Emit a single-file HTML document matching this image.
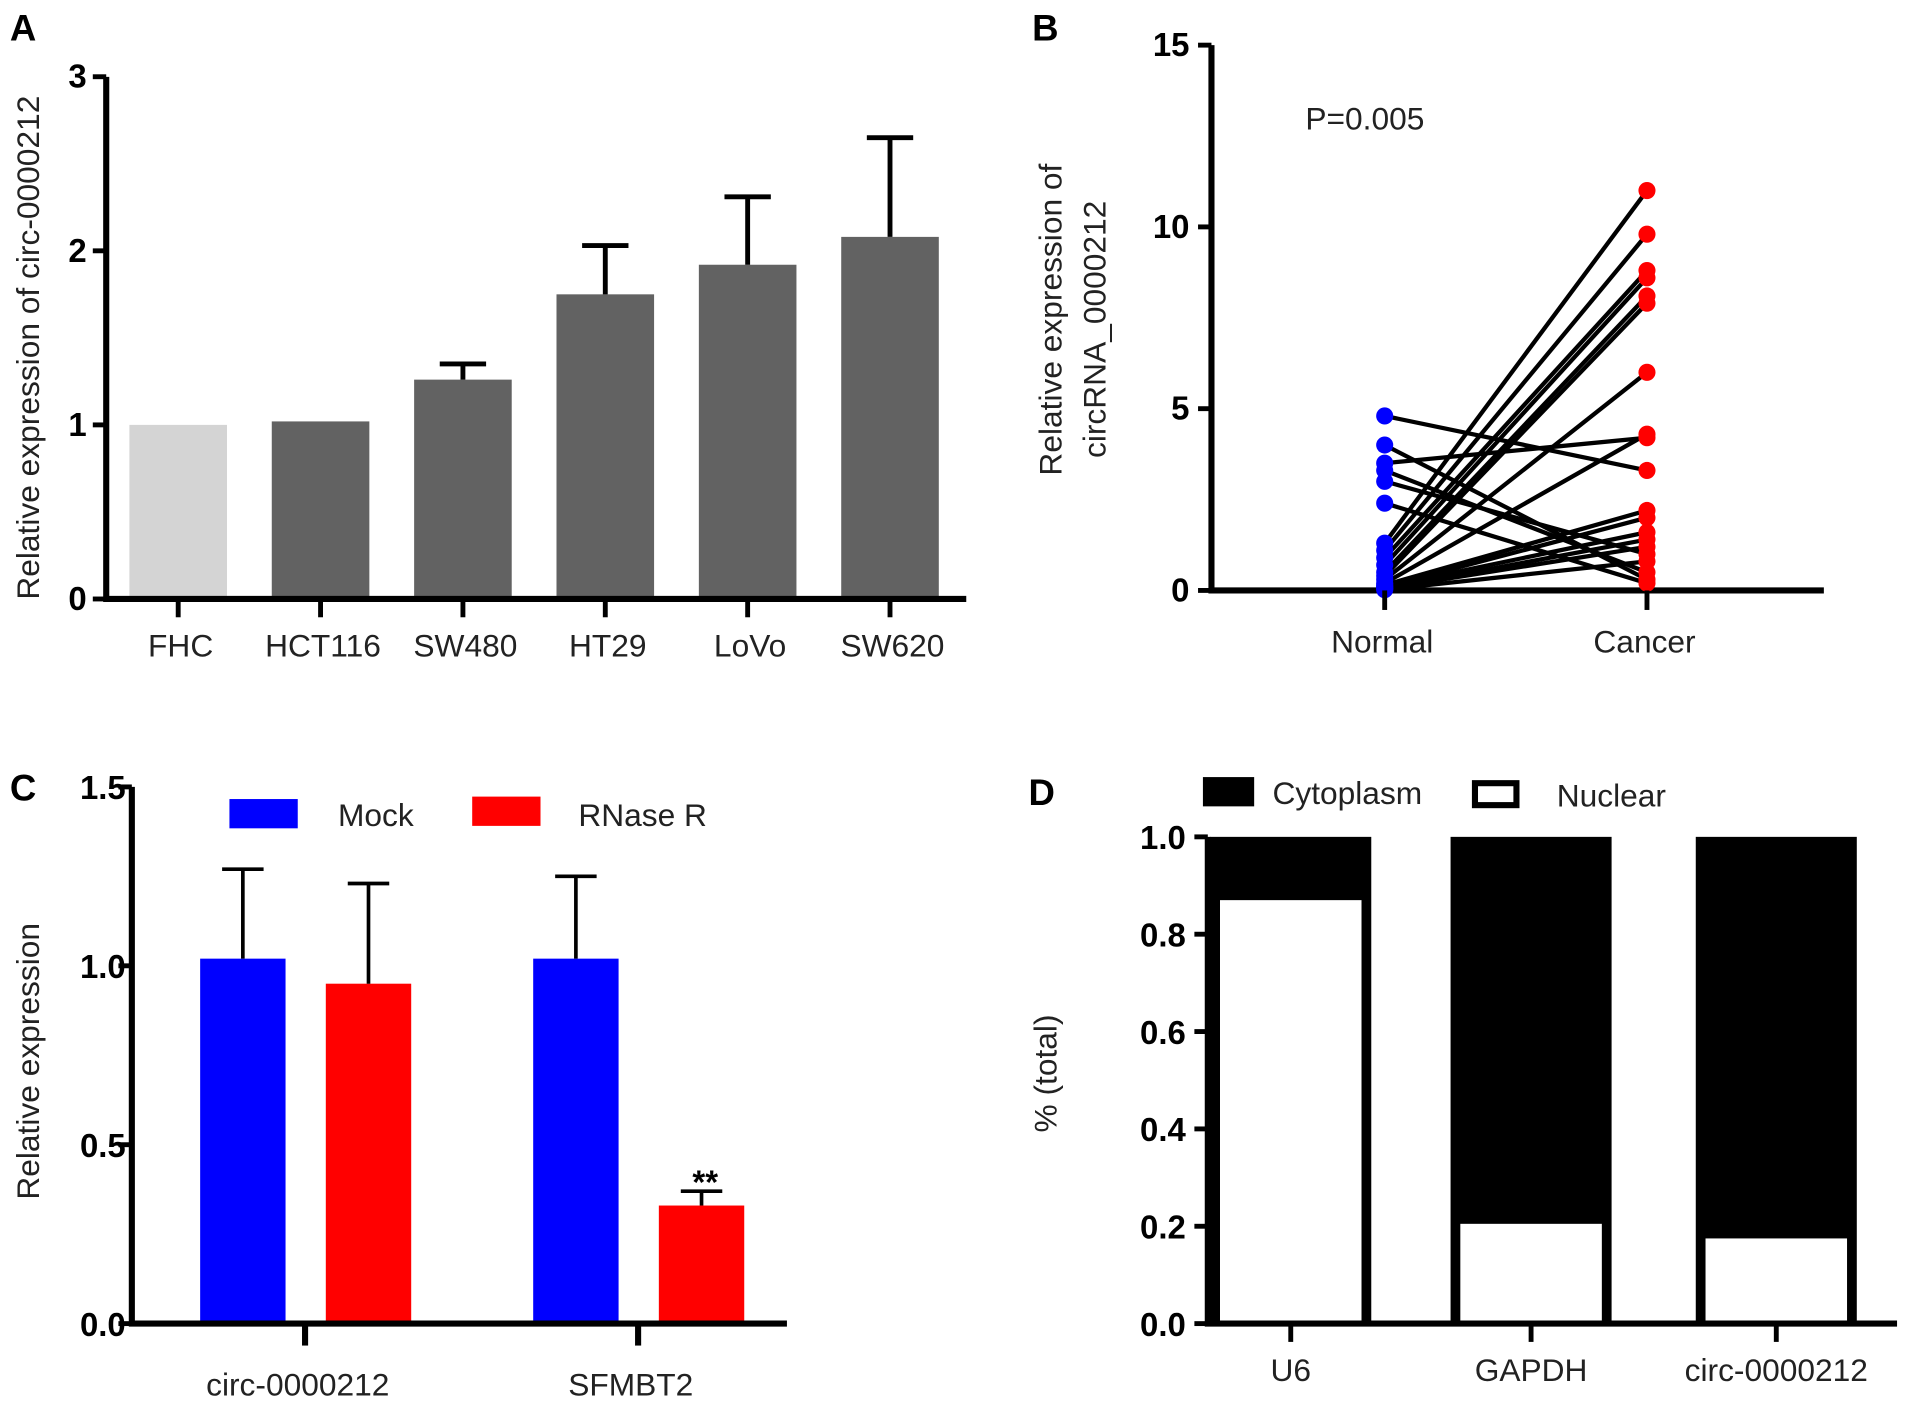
<!DOCTYPE html>
<html><head><meta charset="utf-8"><style>
html,body{margin:0;padding:0;background:#fff;}
svg{display:block;}
text{font-family:"Liberation Sans",sans-serif;}
.tk{font-weight:bold;font-size:27px;}
.lab{font-size:26px;fill:#222;}
.pl{font-weight:bold;font-size:30px;}
</style></head><body>
<svg id="fig" width="1913" height="1409" viewBox="0 0 1568 1155" xmlns="http://www.w3.org/2000/svg">
<g id="A"></g>
<g id="B"></g>
<g id="C"></g>
<g id="D"></g>
</svg>
<script>
// Panel A data
const aCats=["FHC","HCT116","SW480","HT29","LoVo","SW620"];
const aVals=[1.0,1.02,1.26,1.75,1.92,2.08];
const aErr=[0,0,0.09,0.28,0.39,0.57];
const aTicks=[0,1,2,3];
// Panel B data
const bNormal=[4.8,4.0,3.5,3.3,3.0,2.4,1.3,1.1,0.9,0.7,0.5,0.4,0.3,0.2,0.15,0.1,0.1,0.05,0.05,0.02];
const bCancer=[3.3,0.3,4.2,0.5,1.0,0.2,11.0,9.8,8.8,8.6,8.1,7.9,6.0,4.3,2.2,2.0,1.6,1.4,1.2,0.8];
const bTicks=[0,5,10,15];
const bCats=["Normal","Cancer"];
// Panel C data
const cCats=["circ-0000212","SFMBT2"];
const cMock=[1.02,1.02];
const cMockErr=[0.25,0.23];
const cRnase=[0.95,0.33];
const cRnaseErr=[0.28,0.04];
const cTicks=[0,0.5,1.0,1.5];
// Panel D data
const dCats=["U6","GAPDH","circ-0000212"];
const dNuclear=[0.87,0.205,0.175];
const dTicks=[0,0.2,0.4,0.6,0.8,1.0];

const NS="http://www.w3.org/2000/svg";
function mk(p,tag,at,txt){const e=document.createElementNS(NS,tag);for(const k in at)e.setAttribute(k,at[k]);if(txt!==undefined)e.textContent=txt;p.appendChild(e);return e;}

// ---- Panel A
(function(){
const g=document.getElementById('A');
const y=v=>491-v*142.7, x=i=>146+i*116.7;
let t=mk(g,'text',{x:8,y:33,class:'pl'},'A');


aCats.forEach((c,i)=>{
 const r=mk(g,'rect',{x:x(i)-40,y:y(aVals[i]),width:80,height:y(0)-y(aVals[i]),fill:i==0?'#d4d4d4':'#626262'});
 
 
 if(aErr[i]>0){const e=mk(g,'path',{d:`M${x(i)} ${y(aVals[i])}V${y(aVals[i]+aErr[i])}M${x(i)-19} ${y(aVals[i]+aErr[i])}H${x(i)+19}`,stroke:'#000','stroke-width':4,fill:'none'});
 
 }
 mk(g,'line',{x1:x(i),x2:x(i),y1:491,y2:506,stroke:'#000','stroke-width':4});
 const l=mk(g,'text',{x:x(i)+2,y:538,'text-anchor':'middle',class:'lab'},c);
 
 
});
mk(g,'path',{d:'M87 63V491H792',stroke:'#000','stroke-width':5,fill:'none'});
aTicks.forEach(v=>{mk(g,'line',{x1:76,x2:87,y1:y(v),y2:y(v),stroke:'#000','stroke-width':4});
 const l=mk(g,'text',{x:71,y:y(v)+9,'text-anchor':'end',class:'tk'},v);
 
 });
const yl=mk(g,'text',{transform:'translate(32,285) rotate(-90)','text-anchor':'middle',class:'lab'},'Relative expression of circ-0000212');


})();

// ---- Panel B
(function(){
const g=document.getElementById('B');
const y=v=>484-v*29.8, xs=[1135,1350];
let t=mk(g,'text',{x:846,y:33,class:'pl'},'B');


bNormal.forEach((n,i)=>{const l=mk(g,'line',{x1:xs[0],y1:y(n),x2:xs[1],y2:y(bCancer[i]),stroke:'#000','stroke-width':3.5});
 
 });
mk(g,'path',{d:'M993 37V484H1495',stroke:'#000','stroke-width':5,fill:'none'});
bNormal.forEach(n=>{const c=mk(g,'circle',{cx:xs[0],cy:y(n),r:7,fill:'#0000ff'});
 
 });
bCancer.forEach(n=>{const c=mk(g,'circle',{cx:xs[1],cy:y(n),r:7,fill:'#ff0000'});
 
 });
bTicks.forEach(v=>{mk(g,'line',{x1:982,x2:993,y1:y(v),y2:y(v),stroke:'#000','stroke-width':4});
 const l=mk(g,'text',{x:975,y:y(v)+9,'text-anchor':'end',class:'tk'},v);
 
 });
bCats.forEach((c,i)=>{mk(g,'line',{x1:xs[i],x2:xs[i],y1:484,y2:500,stroke:'#000','stroke-width':4});
 const l=mk(g,'text',{x:xs[i]-2,y:535,'text-anchor':'middle',class:'lab'},c);
 
 });
const p=mk(g,'text',{x:1070,y:106,class:'lab'},'P=0.005');


const y1=mk(g,'text',{transform:'translate(870,262) rotate(-90)','text-anchor':'middle',class:'lab'},'Relative expression of');


const y2=mk(g,'text',{transform:'translate(906,270) rotate(-90)','text-anchor':'middle',class:'lab'},'circRNA_0000212');


})();

// ---- Panel C
(function(){
const g=document.getElementById('C');
const y=v=>1085-v*293.3, gx=[250,523];
let t=mk(g,'text',{x:8,y:656,class:'pl'},'C');


cCats.forEach((c,i)=>{
 [[cMock,cMockErr,'#0000ff',-51,'mock'],[cRnase,cRnaseErr,'#ff0000',52,'rnase-r']].forEach(s=>{
  const cx=gx[i]+s[3], v=s[0][i], e=s[1][i];
  const r=mk(g,'rect',{x:cx-35,y:y(v),width:70,height:y(0)-y(v),fill:s[2]});
  
  
  const eb=mk(g,'path',{d:`M${cx} ${y(v)}V${y(v+e)}M${cx-17} ${y(v+e)}H${cx+17}`,stroke:'#000','stroke-width':3,fill:'none'});
  
  
 });
 mk(g,'line',{x1:gx[i],x2:gx[i],y1:1085,y2:1103,stroke:'#000','stroke-width':5});
 const l=mk(g,'text',{x:gx[i]-6,y:1144,'text-anchor':'middle',class:'lab'},c);
 
 
});
const st=mk(g,'text',{x:gx[1]+55,y:y(cRnase[1]+cRnaseErr[1])+2,'text-anchor':'middle',class:'tk'},'**');


mk(g,'path',{d:'M108 645V1085H645',stroke:'#000','stroke-width':5,fill:'none'});
cTicks.forEach(v=>{mk(g,'line',{x1:97,x2:108,y1:y(v),y2:y(v),stroke:'#000','stroke-width':4});
 const l=mk(g,'text',{x:103,y:y(v)+10,'text-anchor':'end',class:'tk'},v.toFixed(1));
 
 });
const yl=mk(g,'text',{transform:'translate(32,870) rotate(-90)','text-anchor':'middle',class:'lab'},'Relative expression');


const l1=mk(g,'rect',{x:188,y:655,width:56,height:24,fill:'#0000ff'});


const t1=mk(g,'text',{x:277,y:677,class:'lab'},'Mock');


const l2=mk(g,'rect',{x:387,y:653,width:56,height:24,fill:'#ff0000'});


const t2=mk(g,'text',{x:474,y:677,class:'lab'},'RNase R');


})();

// ---- Panel D
(function(){
const g=document.getElementById('D');
const y=v=>1085-v*399, xs=[1058,1255,1456];
let t=mk(g,'text',{x:843,y:660,class:'pl'},'D');


dCats.forEach((c,i)=>{
 const cy=mk(g,'rect',{x:xs[i]-66,y:y(1),width:132,height:y(0)-y(1),fill:'#000'});
 
 
 const nu=mk(g,'rect',{x:xs[i]-58,y:y(dNuclear[i]),width:116,height:y(0)-y(dNuclear[i]),fill:'#fff'});
 
 
 mk(g,'line',{x1:xs[i],x2:xs[i],y1:1085,y2:1100,stroke:'#000','stroke-width':4});
 const l=mk(g,'text',{x:xs[i],y:1132,'text-anchor':'middle',class:'lab'},c);
 
 
});
mk(g,'path',{d:'M990 686V1085H1555',stroke:'#000','stroke-width':5,fill:'none'});
dTicks.forEach(v=>{mk(g,'line',{x1:979,x2:990,y1:y(v),y2:y(v),stroke:'#000','stroke-width':4});
 const l=mk(g,'text',{x:972,y:y(v)+10,'text-anchor':'end',class:'tk'},v.toFixed(1));
 
 });
const yl=mk(g,'text',{transform:'translate(866,880) rotate(-90)','text-anchor':'middle',class:'lab'},'% (total)');


const l1=mk(g,'rect',{x:986,y:637,width:42,height:24,fill:'#000'});


const t1=mk(g,'text',{x:1043,y:659,class:'lab'},'Cytoplasm');


const l2=mk(g,'rect',{x:1209,y:642,width:34,height:18,fill:'#fff',stroke:'#000','stroke-width':5});


const t2=mk(g,'text',{x:1276,y:661,class:'lab'},'Nuclear');


})();
</script>
</body></html>
